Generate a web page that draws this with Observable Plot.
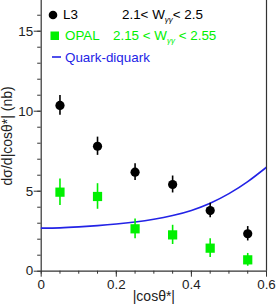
<!DOCTYPE html>
<html>
<head>
<meta charset="utf-8">
<script src="https://cdn.jsdelivr.net/npm/d3@7"></script>
<script src="https://cdn.jsdelivr.net/npm/@observablehq/plot@0.6"></script>
<style>
  html, body { margin: 0; padding: 0; background: #fff; }
  #wrap { position: relative; width: 277px; height: 305px; font-family: "Liberation Sans", Arial, sans-serif; }
  #legend { position: absolute; left: 0; top: 0; font-size: 13.4px; }
  .row { position: absolute; white-space: nowrap; line-height: 1; }
  .sym { position: absolute; }
  sub { font-size: 8px; font-style: italic; vertical-align: -3px; line-height: 0; }
  svg g[aria-label="x-axis label"] text, svg g[aria-label="y-axis label"] text { font-size: 14px; }
</style>
</head>
<body>
<div id="wrap"></div>
<script>
// ---- data ----
const xCenters = [0.05, 0.15, 0.25, 0.35, 0.45, 0.55];
const l3Values = [10.36, 7.81, 6.19, 5.42, 3.79, 2.34];
const l3Errors = [0.62, 0.57, 0.52, 0.53, 0.45, 0.45];
const opalValues = [4.94, 4.67, 2.65, 2.27, 1.44, 0.71];
const opalErrors = [0.83, 0.80, 0.62, 0.60, 0.59, 0.40];
const curveX = [0, 0.05, 0.1, 0.15, 0.2, 0.25, 0.3, 0.35, 0.4, 0.45, 0.5, 0.55, 0.6];
const curveY = [2.69, 2.71, 2.77, 2.85, 2.95, 3.08, 3.25, 3.48, 3.80, 4.25, 4.85, 5.60, 6.50];
const xTicks = [0, 0.2, 0.4, 0.6];
const yTicks = [0, 5, 10, 15];
const legendLabels = ["L3", "OPAL", "Quark-diquark"];

const GREEN = "#00f000";
const BLUE = "#2323e6";

const l3 = xCenters.map((x, i) => ({x, y: l3Values[i], lo: l3Values[i] - l3Errors[i], hi: l3Values[i] + l3Errors[i]}));
const opal = xCenters.map((x, i) => ({x, y: opalValues[i], lo: opalValues[i] - opalErrors[i], hi: opalValues[i] + opalErrors[i]}));
const curve = curveX.map((x, i) => ({x, y: curveY[i]}));
const xMinor = d3.range(0, 0.6001, 0.05);
const yMinor = d3.range(0, 17, 1);

const chart = Plot.plot({
  width: 277,
  height: 305,
  marginLeft: 40.7,
  marginRight: 11,
  marginTop: 0,
  marginBottom: 34.3,
  style: {fontFamily: "Liberation Sans, Arial, sans-serif", fontSize: "13.4px", color: "#222", background: "white", overflow: "visible"},
  x: {domain: [0, 0.6]},
  y: {domain: [0, 16.92]},
  marks: [
    Plot.axisX(xMinor, {tickSize: 3, tickFormat: () => "", label: null, stroke: "#333"}),
    Plot.axisX(xTicks, {tickSize: 6, tickPadding: 2.5, tickFormat: d => d === 0 ? "0" : String(d), label: "|cosθ*|", labelAnchor: "center", labelArrow: "none", labelOffset: 29.5, stroke: "#333", fill: "#222"}),
    Plot.axisY(yMinor, {tickSize: 3.5, tickFormat: () => "", label: null, stroke: "#333"}),
    Plot.axisY(yTicks, {tickSize: 7, tickPadding: 1, label: "dσ/d|cosθ*| (nb)", labelAnchor: "center", labelArrow: "none", labelOffset: 39, stroke: "#333", fill: "#222"}),
    Plot.ruleX([0, 0.6], {stroke: "#333", strokeWidth: 1.2}),
    Plot.ruleY([0], {stroke: "#333", strokeWidth: 1.2}),
    Plot.line(curve, {x: "x", y: "y", stroke: BLUE, strokeWidth: 1.6, curve: "natural", clip: true}),
    Plot.ruleX(l3, {x: "x", y1: "lo", y2: "hi", stroke: "black", strokeWidth: 1.6}),
    Plot.dot(l3, {x: "x", y: "y", r: 4.6, fill: "black", stroke: "none"}),
    Plot.ruleX(opal, {x: "x", y1: "lo", y2: "hi", stroke: GREEN, strokeWidth: 1.6}),
    Plot.dot(opal, {x: "x", y: "y", r: 5.2, symbol: "square", fill: GREEN, stroke: "none"})
  ]
});

const wrap = document.getElementById("wrap");
wrap.appendChild(chart);

// legend overlay
const legend = document.createElement("div");
legend.id = "legend";
legend.innerHTML = `
  <svg class="sym" style="left:47px;top:9px" width="12" height="12"><circle cx="6" cy="6" r="4.3" fill="black"/></svg>
  <div class="row" style="left:63px;top:8px;color:#000">${legendLabels[0]}</div>
  <div class="row" style="left:122px;top:8px;color:#000">2.1&lt; W<sub>γγ</sub>&lt; 2.5</div>
  <svg class="sym" style="left:49px;top:30px" width="12" height="12"><rect x="1.5" y="1.5" width="8.5" height="8.5" fill="${GREEN}"/></svg>
  <div class="row" style="left:65px;top:29px;color:${GREEN}">${legendLabels[1]}</div>
  <div class="row" style="left:113px;top:29px;color:${GREEN}">2.15 &lt; W<sub>γγ</sub> &lt; 2.55</div>
  <svg class="sym" style="left:51px;top:51px" width="12" height="12"><line x1="1" x2="10" y1="6" y2="6" stroke="${BLUE}" stroke-width="1.6"/></svg>
  <div class="row" style="left:65px;top:51px;color:${BLUE}">${legendLabels[2]}</div>
`;
wrap.appendChild(legend);
</script>
</body>
</html>
